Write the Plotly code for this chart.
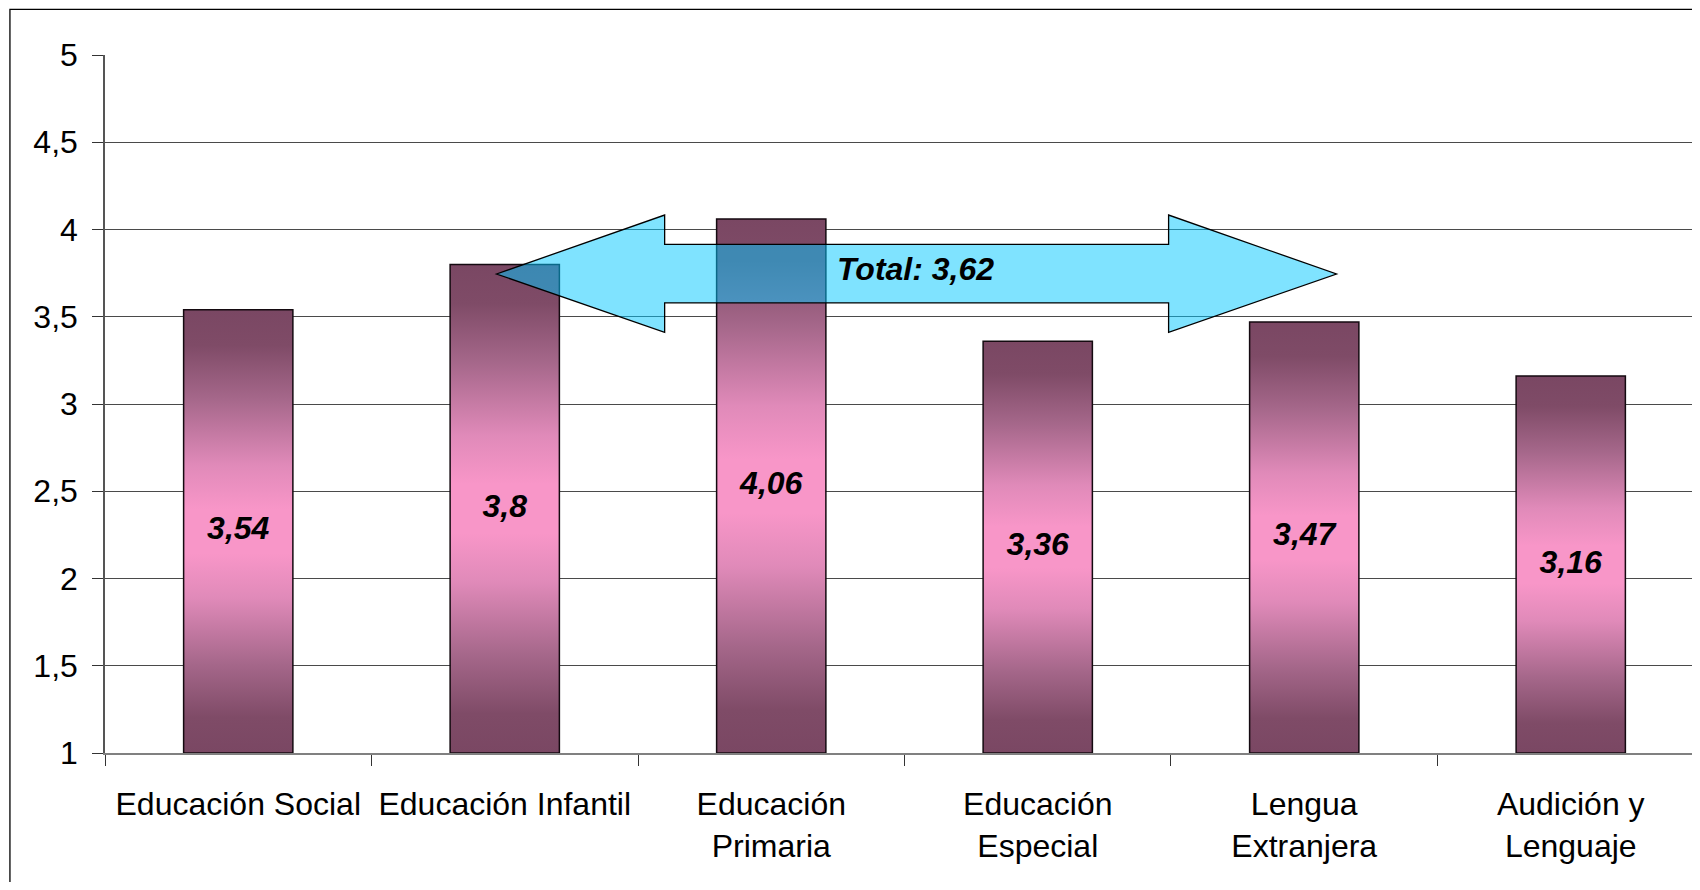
import plotly.graph_objects as go

# Data
CATEGORIES = [
    "Educación Social",
    "Educación Infantil",
    "Educación<br>Primaria",
    "Educación<br>Especial",
    "Lengua<br>Extranjera",
    "Audición y<br>Lenguaje",
]
SCORES = [3.54, 3.8, 4.06, 3.36, 3.47, 3.16]
TOTAL = 3.62
Y_TICKS = [1, 1.5, 2, 2.5, 3, 3.5, 4, 4.5, 5]

# Styles
FONT = "Arial, 'Liberation Sans', sans-serif"
BASE = 1
BAR_W = 0.41
BAR_SCALE = [
    [0.0, "#7a4763"],
    [0.08, "#7f4b67"],
    [0.2, "#a5678a"],
    [0.35, "#e08ab9"],
    [0.45, "#f896c8"],
    [0.55, "#f896c8"],
    [0.65, "#e08ab9"],
    [0.8, "#a5678a"],
    [0.92, "#7f4b67"],
    [1.0, "#7a4763"],
]

# double arrow behind the "Total" label (hand placed, axis units)
ARROW_X = [0.969, 1.600, 1.600, 3.491, 3.491, 4.121, 3.491, 3.491, 1.600, 1.600]
ARROW_Y = [3.745, 4.083, 3.915, 3.915, 4.083, 3.745, 3.411, 3.579, 3.579, 3.411]
TOTAL_POS = (2.543, 3.775)


def comma(v):
    return f"{v:g}".replace(".", ",")


fig = go.Figure()

for i, v in enumerate(SCORES):
    x0, x1 = i - BAR_W / 2, i + BAR_W / 2
    fig.add_trace(
        go.Scatter(
            x=[x0, x1, x1, x0, x0],
            y=[BASE, BASE, v, v, BASE],
            mode="lines",
            fill="toself",
            fillgradient=dict(type="vertical", colorscale=BAR_SCALE),
            line=dict(color="#140a10", width=1.5),
            hoverinfo="skip",
            showlegend=False,
        )
    )

fig.add_trace(
    go.Scatter(
        x=list(range(len(SCORES))),
        y=[(BASE + v) / 2 for v in SCORES],
        mode="text",
        text=[comma(v) for v in SCORES],
        textfont=dict(family=FONT, size=32, color="black", weight="bold", style="italic"),
        hoverinfo="skip",
        showlegend=False,
    )
)

path = "M " + " L ".join(f"{x},{y}" for x, y in zip(ARROW_X, ARROW_Y)) + " Z"
fig.add_shape(
    type="path",
    path=path,
    xref="x",
    yref="y",
    fillcolor="rgba(0,200,255,0.5)",
    line=dict(color="black", width=1.3),
    layer="above",
)
fig.add_annotation(
    x=TOTAL_POS[0],
    y=TOTAL_POS[1],
    text=f"Total: {comma(TOTAL)}",
    showarrow=False,
    font=dict(family=FONT, size=32, color="black", weight="bold", style="italic"),
)

# outer frame of the chart
fig.add_shape(
    type="rect",
    xref="paper",
    yref="paper",
    x0=-0.0599,
    y0=-0.4,
    x1=1.05,
    y1=1.0655,
    line=dict(color="black", width=1.3),
    fillcolor="rgba(0,0,0,0)",
)

# page body keeps an 8px margin; keep the figure small enough to avoid scrollbars
fig.update_layout(
    width=1684,
    height=874,
    margin=dict(l=97, r=0, t=47, b=129),
    paper_bgcolor="white",
    plot_bgcolor="white",
    separators=", ",
    font=dict(family=FONT, size=32, color="black"),
    showlegend=False,
    xaxis=dict(
        range=[-0.5, 5.455],
        tickvals=list(range(len(CATEGORIES))),
        ticktext=CATEGORIES,
        ticks="outside",
        ticklen=11,
        tickcolor="rgba(0,0,0,0)",
        ticklabelstandoff=11,
        minor=dict(
            tickvals=[i - 0.5 for i in range(len(CATEGORIES) + 1)],
            ticks="outside",
            ticklen=11,
            tickcolor="#333333",
            showgrid=False,
        ),
        showline=True,
        linecolor="#808080",
        linewidth=1.5,
        showgrid=False,
        zeroline=False,
        fixedrange=True,
    ),
    yaxis=dict(
        range=[1, 5],
        tickvals=Y_TICKS,
        ticks="outside",
        ticklen=11,
        tickcolor="#333333",
        ticklabelstandoff=8,
        showline=True,
        linecolor="#555555",
        linewidth=1.5,
        showgrid=True,
        gridcolor="#4a4a4a",
        gridwidth=1,
        zeroline=False,
        fixedrange=True,
    ),
)

fig.write_html("out.html")
